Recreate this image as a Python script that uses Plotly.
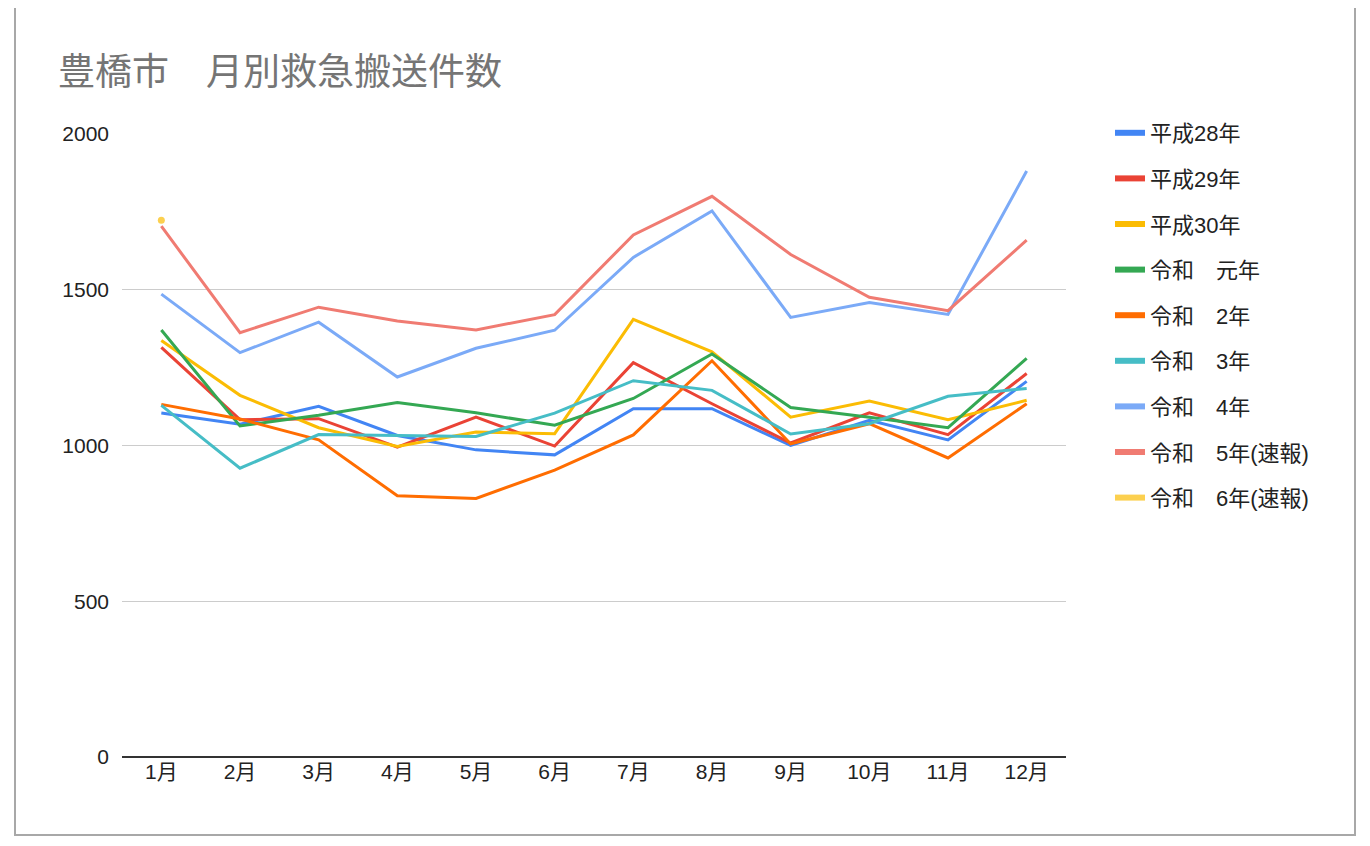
import plotly.graph_objects as go

months = ["1月", "2月", "3月", "4月", "5月", "6月", "7月", "8月", "9月", "10月", "11月", "12月"]

h28 = [1104, 1068, 1126, 1032, 986, 970, 1118, 1118, 1000, 1081, 1018, 1206]
h29 = [1315, 1083, 1086, 995, 1091, 998, 1266, 1134, 1008, 1105, 1035, 1231]
h30 = [1337, 1161, 1057, 997, 1043, 1038, 1405, 1301, 1091, 1143, 1083, 1145]
r1 = [1371, 1063, 1097, 1138, 1105, 1065, 1151, 1294, 1122, 1091, 1057, 1280]
r2 = [1132, 1085, 1018, 839, 830, 921, 1034, 1272, 1005, 1070, 960, 1134]
r3 = [1129, 927, 1035, 1032, 1029, 1104, 1208, 1177, 1037, 1070, 1158, 1183]
r4 = [1486, 1298, 1396, 1220, 1312, 1370, 1604, 1753, 1411, 1459, 1421, 1881]
r5 = [1704, 1362, 1444, 1400, 1371, 1420, 1676, 1800, 1613, 1476, 1433, 1659]
r6 = [1723, None, None, None, None, None, None, None, None, None, None, None]

names = ["平成28年", "平成29年", "平成30年", "令和　元年", "令和　2年", "令和　3年",
         "令和　4年", "令和　5年(速報)", "令和　6年(速報)"]
colors = ["#4285F4", "#EA4335", "#FBBC04", "#34A853", "#FF6D01", "#46BDC6",
          "#7BAAF7", "#F07B72", "#FCD04F"]
series = [h28, h29, h30, r1, r2, r3, r4, r5, r6]

FONT = "Liberation Sans, Arial, Noto Sans CJK JP, sans-serif"

fig = go.Figure()
for i, (nm, col, ys) in enumerate(zip(names, colors, series)):
    fig.add_trace(go.Scatter(x=months, y=ys, name=nm, mode="lines",
                             line=dict(color=col, width=3), showlegend=False,
                             connectgaps=False))
# single point for 令和6年
fig.add_trace(go.Scatter(x=months, y=r6, mode="markers", showlegend=False,
                         marker=dict(color=colors[8], size=7), hoverinfo="skip"))
# legend swatches
for i, (nm, col) in enumerate(zip(names, colors)):
    fig.add_trace(go.Scatter(x=[months[0]], y=[None], name=nm, mode="lines",
                             line=dict(color=col, width=6), legendgroup=str(i),
                             hoverinfo="skip"))

O = 8  # page body offset
W, H = 1370 - O, 846 - O
L, R, T, B = 122 - O, 1066 - O, 134 - O, 757 - O
pw, ph = R - L, B - T

def px(x):
    return (x - O - L) / pw

def py(y):
    return (B - (y - O)) / ph

fig.update_layout(
    width=W, height=H,
    margin=dict(l=L, r=W - R, t=T, b=H - B, pad=0),
    paper_bgcolor="white", plot_bgcolor="white",
    font=dict(family=FONT, size=21, color="#222222"),
    title=dict(text="豊橋市　月別救急搬送件数", x=(58 - O) / W, xanchor="left",
               y=1 - (72 - O) / H, yanchor="middle", xref="container", yref="container",
               font=dict(family=FONT, size=37, color="#757575")),
    showlegend=True,
    legend=dict(x=px(1110), y=py(112), xanchor="left", yanchor="top",
                font=dict(family=FONT, size=22, color="#222222"),
                tracegroupgap=14, bgcolor="rgba(0,0,0,0)", itemwidth=30,
                maxheight=800),
    xaxis=dict(type="category", range=[-0.5, 11.5], showgrid=False, zeroline=False,
               showline=False, ticks="", tickfont=dict(size=21, color="#222222")),
    yaxis=dict(range=[0, 2000], dtick=500, showgrid=True, gridcolor="#cccccc",
               gridwidth=1.3, zeroline=True, zerolinecolor="#333333", zerolinewidth=2,
               showline=False, ticks="", ticklabelstandoff=12,
               tickfont=dict(size=21, color="#222222")),
    shapes=[dict(type="rect", xref="paper", yref="paper",
                 x0=px(15), x1=px(1355), y0=py(835), y1=py(5),
                 line=dict(color="#a8a8a8", width=2), fillcolor="rgba(0,0,0,0)",
                 layer="below")],
)

fig.write_html("out.html")
